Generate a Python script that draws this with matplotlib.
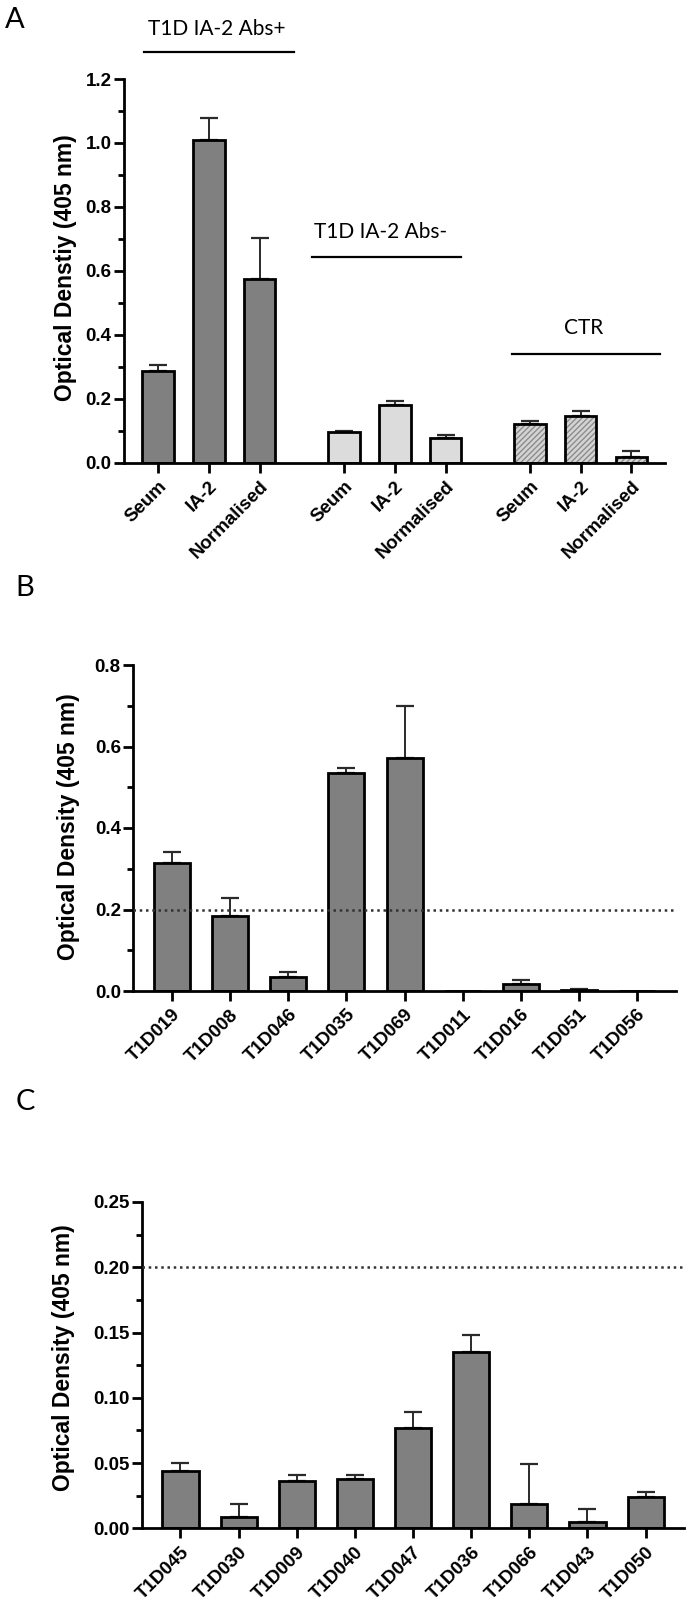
import matplotlib
matplotlib.use("Agg")
import matplotlib.pyplot as plt
from matplotlib.ticker import MultipleLocator
from matplotlib.font_manager import FontProperties

# ---------------- data ----------------
a_categories = ["Seum", "IA-2", "Normalised"]
a_groups = ["T1D IA-2 Abs+", "T1D IA-2 Abs-", "CTR"]
a_pos_vals = [0.287, 1.008, 0.573]
a_pos_err = [0.017, 0.070, 0.128]
a_neg_vals = [0.095, 0.180, 0.076]
a_neg_err = [0.004, 0.013, 0.011]
a_ctr_vals = [0.120, 0.145, 0.018]
a_ctr_err = [0.009, 0.017, 0.019]

b_labels = ["T1D019", "T1D008", "T1D046", "T1D035", "T1D069",
            "T1D011", "T1D016", "T1D051", "T1D056"]
b_vals = [0.313, 0.185, 0.035, 0.535, 0.573, 0.0, 0.016, 0.002, 0.0]
b_err = [0.028, 0.044, 0.011, 0.012, 0.127, 0.0, 0.010, 0.004, 0.0]

c_labels = ["T1D045", "T1D030", "T1D009", "T1D040", "T1D047",
            "T1D036", "T1D066", "T1D043", "T1D050"]
c_vals = [0.044, 0.009, 0.036, 0.038, 0.077, 0.135, 0.019, 0.005, 0.024]
c_err = [0.006, 0.010, 0.0045, 0.0025, 0.012, 0.013, 0.030, 0.0095, 0.004]

threshold = 0.2

# ---------------- style ----------------
W, H = 688, 1612
TICKFONT = dict(family="Liberation Sans", weight="bold", size=13.5)
LABELFONT = dict(family="Liberation Sans", weight="bold", size=16.5)
GROUPFONT = dict(family="Lato", size=15)
LETTERFONT = dict(family="Lato", size=21)
DARK = "#808080"
LIGHT = "#dcdcdc"
HATCHFACE = "#d4d4d4"
BAR_W = 0.62
LW = 2.0

plt.rcParams["hatch.linewidth"] = 1.0

fig = plt.figure(figsize=(W / 100, H / 100), dpi=100)


def make_axes(left, right, top, bottom):
    return fig.add_axes([left / W, 1 - bottom / H, (right - left) / W, (bottom - top) / H])


def style_axes(ax, ymax, major, minor, fmt):
    ax.set_ylim(0, ymax)
    for s in ["top", "right"]:
        ax.spines[s].set_visible(False)
    for s in ["left", "bottom"]:
        ax.spines[s].set_linewidth(LW)
    ax.yaxis.set_major_locator(MultipleLocator(major))
    ax.yaxis.set_minor_locator(MultipleLocator(minor))
    ax.yaxis.set_major_formatter(plt.FuncFormatter(lambda v, p: fmt.format(v)))
    ax.tick_params(axis="y", which="major", length=7, width=LW, pad=2)
    ax.tick_params(axis="y", which="minor", length=4.5, width=LW)
    ax.tick_params(axis="x", which="major", length=7, width=LW, pad=4)
    ax.tick_params(axis="x", which="minor", length=0)
    for lab in ax.get_yticklabels():
        lab.set_fontproperties(FontProperties(**TICKFONT))


def draw_bars(ax, x, vals, errs, face, hatch=None):
    if hatch:
        ax.bar(x, vals, width=BAR_W, color=face, edgecolor="#8c8c8c", hatch=hatch,
               linewidth=0, zorder=2)
        ax.bar(x, vals, width=BAR_W, fill=False, edgecolor="black", linewidth=LW, zorder=3)
    else:
        ax.bar(x, vals, width=BAR_W, color=face, edgecolor="black", linewidth=LW, zorder=2)
    for xi, v, e in zip(x, vals, errs):
        if e > 0:
            ax.errorbar([xi], [v], yerr=[[0], [e]], fmt="none", ecolor="#2a2a2a",
                        elinewidth=1.4, capsize=6.5, capthick=1.6, zorder=1)


def set_xlabels(ax, x, labels):
    ax.set_xticks(x)
    ax.set_xticklabels(labels, rotation=45, ha="right", rotation_mode="anchor",
                       **TICKFONT)


# ---------------- Panel A ----------------
axA = make_axes(124, 665, 79, 462.5)
gap = 1.66
xA = []
for g in range(3):
    xA.append([g * (2 + gap) + i for i in range(3)])
draw_bars(axA, xA[0], a_pos_vals, a_pos_err, DARK)
draw_bars(axA, xA[1], a_neg_vals, a_neg_err, LIGHT)
draw_bars(axA, xA[2], a_ctr_vals, a_ctr_err, HATCHFACE, hatch="//////")
axA.set_xlim(-0.67, 9.98)
style_axes(axA, 1.2, 0.2, 0.1, "{:.1f}")
set_xlabels(axA, xA[0] + xA[1] + xA[2], a_categories * 3)

# group annotations (line extents / heights in data units)
grp_line_x = [(-0.27, 2.68), (3.03, 5.96), (6.97, 9.88)]
grp_line_y = [1.285, 0.643, 0.341]
grp_text_x = [1.16, 4.39, 8.38]
grp_text_y = [1.357, 0.721, 0.421]
for name, (x0, x1), ly, tx, ty in zip(a_groups, grp_line_x, grp_line_y, grp_text_x, grp_text_y):
    axA.plot([x0, x1], [ly, ly], color="black", lw=1.6, clip_on=False)
    axA.text(tx, ty, name, ha="center", va="center", clip_on=False, **GROUPFONT)

fig.text(66 / W, 1 - 268 / H, "Optical Denstiy (405 nm)", rotation=90,
         ha="center", va="center", **LABELFONT)
fig.text(15 / W, 1 - 20 / H, "A", ha="center", va="center", **LETTERFONT)

# ---------------- Panel B ----------------
axB = make_axes(133.3, 676, 665, 991)
xB = list(range(len(b_labels)))
draw_bars(axB, xB, b_vals, b_err, DARK)
axB.axhline(threshold, color="#333333", lw=1.8, ls=(0, (1, 1.5)), zorder=4)
axB.set_xlim(-0.666, 8.67)
style_axes(axB, 0.8, 0.2, 0.1, "{:.1f}")
set_xlabels(axB, xB, b_labels)
fig.text(69 / W, 1 - 827 / H, "Optical Density (405 nm)", rotation=90,
         ha="center", va="center", **LABELFONT)
fig.text(25 / W, 1 - 588 / H, "B", ha="center", va="center", **LETTERFONT)

# ---------------- Panel C ----------------
axC = make_axes(141.7, 684, 1202, 1528.3)
xC = list(range(len(c_labels)))
draw_bars(axC, xC, c_vals, c_err, DARK)
axC.axhline(threshold, color="#333333", lw=1.8, ls=(0, (1, 1.5)), zorder=4)
axC.set_xlim(-0.667, 8.66)
style_axes(axC, 0.25, 0.05, 0.025, "{:.2f}")
set_xlabels(axC, xC, c_labels)
fig.text(64 / W, 1 - 1358 / H, "Optical Density (405 nm)", rotation=90,
         ha="center", va="center", **LABELFONT)
fig.text(25 / W, 1 - 1102 / H, "C", ha="center", va="center", **LETTERFONT)

fig.savefig("out.png", dpi=100)
